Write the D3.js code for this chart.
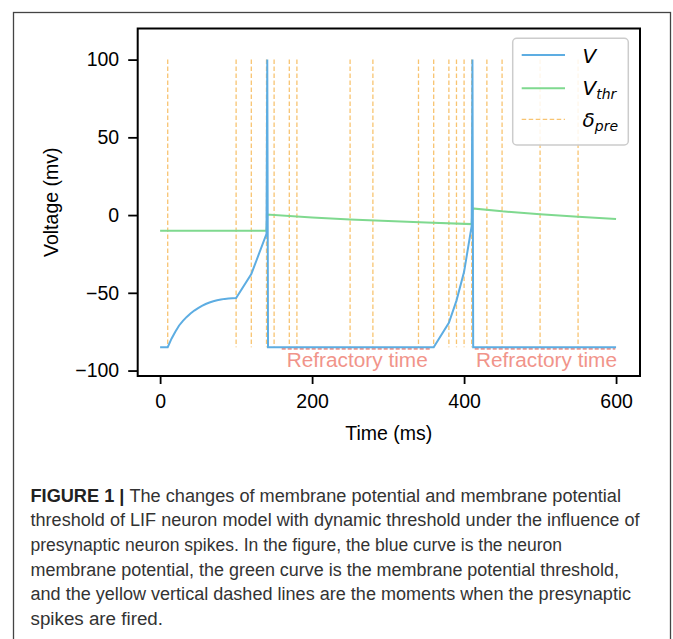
<!DOCTYPE html>
<html>
<head>
<meta charset="utf-8">
<script src="https://cdn.jsdelivr.net/npm/d3@7"></script>
<style>
  html, body { margin: 0; padding: 0; background: #fff; }
  svg { display: block; }
</style>
</head>
<body>
<svg id="chart" width="673" height="639"></svg>
<script>
// ---------- data ----------
const timeTicks = [0, 200, 400, 600];
const voltTicks = [-100, -50, 0, 50, 100];

// presynaptic spike times (ms)
const inputTimes = [10, 100, 120, 140, 150, 170, 180, 250, 280, 340, 360, 380, 390, 400, 410, 430, 450, 500, 550];

// membrane potential V
const vTime  = [0, 10, 15, 20, 25, 30, 35, 40, 45, 50, 55, 60, 65, 70, 75, 80, 85, 90, 95, 100, 120, 140, 141, 142, 360, 380, 390, 400, 410, 411, 412, 600];
const vValue = [-85, -85, -79.5, -75, -71, -68, -65.5, -63.3, -61.4, -59.8, -58.4, -57.2, -56.2, -55.4, -54.8, -54.3, -53.9, -53.7, -53.5, -53.3, -38, -12, 100, -85, -85, -69.3, -55, -36.5, -7, 100, -85, -85];

// dynamic threshold V_thr
const thrTime  = [0, 140, 141, 200, 250, 300, 350, 410, 411, 450, 500, 550, 600];
const thrValue = [-10, -10, 0.3, -1.6, -2.8, -3.8, -4.8, -5.8, 4.3, 2.4, 0.6, -1.1, -2.6];

// refractory periods
const refStart = [160, 414];
const refEnd   = [357, 599];
const refLabelTime = [166.6, 415.7];
const refLevel = -86;
const refLabelLevel = -98;
const refLabel = "Refractory time";

const captionLines = [
  "threshold of LIF neuron model with dynamic threshold under the influence of",
  "presynaptic neuron spikes. In the figure, the blue curve is the neuron",
  "membrane potential, the green curve is the membrane potential threshold,",
  "and the yellow vertical dashed lines are the moments when the presynaptic",
  "spikes are fired."
];

// ---------- styles ----------
const C_V = "#5DADE2", C_THR = "#7FD98F", C_PRE = "#F8C471", C_REF = "#F1948A";
const FONT = "'Liberation Sans', Arial, Helvetica, sans-serif";

const svg = d3.select("#chart");

// outer figure frame
svg.append("rect").attr("x", 13.5).attr("y", 12.5).attr("width", 657).attr("height", 660)
  .attr("fill", "none").attr("stroke", "#444").attr("stroke-width", 1.3);

const L = 137.7, R = 640, T = 28.5, B = 376;
const x = d3.scaleLinear().domain([-29.5, 631.5]).range([L, R]);
const y = d3.scaleLinear().domain([-103.5, 120]).range([B, T]);

const plot = svg.append("g");

// presynaptic dashed lines
plot.selectAll("line.pre").data(inputTimes).join("line")
  .attr("class", "pre")
  .attr("x1", d => x(d)).attr("x2", d => x(d))
  .attr("y1", y(100)).attr("y2", y(-85))
  .attr("stroke", C_PRE).attr("stroke-width", 1.3).attr("stroke-dasharray", "4.5,2.5");

// refractory red dashes
plot.selectAll("line.ref").data(refStart).join("line")
  .attr("class", "ref")
  .attr("x1", d => x(d)).attr("x2", (d, i) => x(refEnd[i]))
  .attr("y1", y(refLevel)).attr("y2", y(refLevel))
  .attr("stroke", C_REF).attr("stroke-width", 2).attr("stroke-dasharray", "4,2");

const line = d3.line().x(d => x(d[0])).y(d => y(d[1]));

plot.append("path").datum(thrTime.map((t, i) => [t, thrValue[i]]))
  .attr("d", line).attr("fill", "none").attr("stroke", C_THR).attr("stroke-width", 2);

plot.append("path").datum(vTime.map((t, i) => [t, vValue[i]]))
  .attr("d", line).attr("fill", "none").attr("stroke", C_V).attr("stroke-width", 2)
  .attr("stroke-linejoin", "miter");

// refractory labels
plot.selectAll("text.ref").data(refLabelTime).join("text")
  .attr("class", "ref")
  .attr("x", d => x(d)).attr("y", y(refLabelLevel))
  .attr("font-family", FONT).attr("font-size", 19.5)
  .attr("textLength", 141).attr("lengthAdjust", "spacingAndGlyphs")
  .attr("fill", C_REF).text(refLabel);

// axes
const xAxis = d3.axisBottom(x).tickValues(timeTicks).tickSize(8).tickPadding(10);
const yAxis = d3.axisLeft(y).tickValues(voltTicks).tickSize(9.5).tickPadding(9)
  .tickFormat(d => d < 0 ? "\u2212" + Math.abs(d) : d);

const gx = svg.append("g").attr("transform", `translate(0,${B})`).call(xAxis);
const gy = svg.append("g").attr("transform", `translate(${L},0)`).call(yAxis);
[gx, gy].forEach(g => {
  g.select(".domain").remove();
  g.selectAll(".tick line").attr("stroke", "#000").attr("stroke-width", 1.8);
  g.selectAll(".tick text").attr("font-family", FONT).attr("font-size", 19.5).attr("fill", "#000");
});

// spines (box)
svg.append("rect").attr("x", L).attr("y", T).attr("width", R - L).attr("height", B - T)
  .attr("fill", "none").attr("stroke", "#000").attr("stroke-width", 2);

// axis labels
svg.append("text").attr("x", (L + R) / 2).attr("y", 440).attr("text-anchor", "middle")
  .attr("font-family", FONT).attr("font-size", 19.5).attr("fill", "#000").text("Time (ms)");
svg.append("text").attr("transform", `translate(58,${(T + B) / 2}) rotate(-90)`)
  .attr("text-anchor", "middle")
  .attr("font-family", FONT).attr("font-size", 19.5).attr("fill", "#000").text("Voltage (mv)");

// legend
const lg = svg.append("g");
lg.append("rect").attr("x", 512.7).attr("y", 38.3).attr("width", 115.6).attr("height", 106.7)
  .attr("rx", 4).attr("fill", "#fff").attr("fill-opacity", 0.85)
  .attr("stroke", "#cccccc").attr("stroke-width", 1.5);
const legendItems = [
  { main: "V", sub: "", color: C_V, dash: null, ly: 55, ty: 63 },
  { main: "V", sub: "thr", color: C_THR, dash: null, ly: 88.3, ty: 95 },
  { main: "\u03B4", sub: "pre", color: C_PRE, dash: "4.5,2.5", ly: 119.3, ty: 126.5 }
];
legendItems.forEach(it => {
  lg.append("line").attr("x1", 521.7).attr("x2", 565).attr("y1", it.ly).attr("y2", it.ly)
    .attr("stroke", it.color).attr("stroke-width", it.dash ? 1.3 : 2)
    .attr("stroke-dasharray", it.dash);
  const t = lg.append("text").attr("x", 582.5).attr("y", it.ty)
    .attr("font-family", "'DejaVu Sans', sans-serif").attr("font-style", "italic")
    .attr("font-size", 20).attr("fill", "#000");
  t.append("tspan").text(it.main);
  if (it.sub) t.append("tspan").attr("dy", 4).attr("font-size", 14).text(it.sub);
});

// caption
const cap = svg.append("g").attr("font-family", FONT).attr("font-size", 17.6).attr("fill", "#333");
const first = cap.append("text").attr("x", 30.5).attr("y", 501.5);
first.append("tspan").attr("font-weight", "bold").attr("fill", "#222").text("FIGURE 1 | ");
first.append("tspan").text("The changes of membrane potential and membrane potential");
first.attr("textLength", 590.5).attr("lengthAdjust", "spacingAndGlyphs");
const capEnds = [639.5, 562, 619, 631, 163];
captionLines.forEach((s, i) => {
  cap.append("text").attr("x", 30.5).attr("y", 526.2 + i * 24.7)
    .attr("textLength", capEnds[i] - 30.5).attr("lengthAdjust", "spacingAndGlyphs").text(s);
});
</script>
</body>
</html>
